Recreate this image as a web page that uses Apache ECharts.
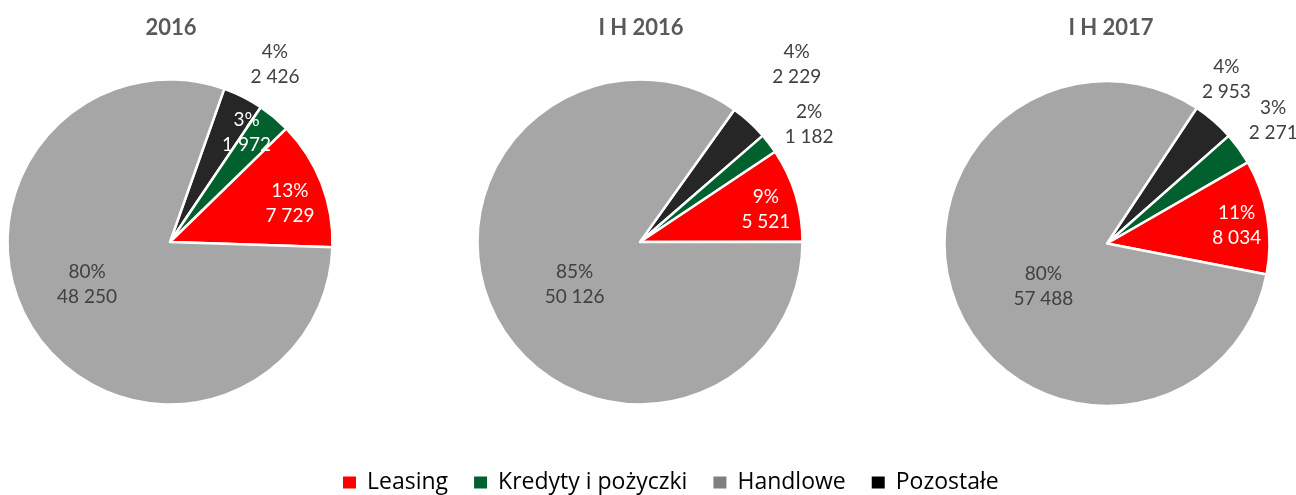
<!DOCTYPE html>
<html>
<head>
<meta charset="utf-8">
<script src="https://cdn.jsdelivr.net/npm/echarts@6/dist/echarts.min.js"></script>
<style>
  html, body { margin: 0; padding: 0; background: #fff; }
  #chart { width: 1296px; height: 495px; }
</style>
</head>
<body>
<div id="chart"></div>
<script>
// okresy (tytuły wykresów)
const periods = ['2016', 'I H 2016', 'I H 2017']
const categories = ['Leasing', 'Kredyty i pożyczki', 'Handlowe', 'Pozostałe']

// wartości
const leasing = [7729, 5521, 8034]
const kredyty = [1972, 1182, 2271]
const handlowe = [48250, 50126, 57488]
const pozostale = [2426, 2229, 2953]

const leasingPct = [13, 9, 11]
const kredytyPct = [3, 2, 3]
const handlowePct = [80, 85, 80]
const pozostalePct = [4, 4, 4]

const colors = {
  'Leasing': '#ff0000',
  'Kredyty i pożyczki': '#00612e',
  'Handlowe': '#a6a6a6',
  'Pozostałe': '#262626'
}
const legendColors = {
  'Leasing': '#ff0000',
  'Kredyty i pożyczki': '#00612e',
  'Handlowe': '#7f7f7f',
  'Pozostałe': '#000000'
}

const centersX = [170, 640, 1107]
const centersY = [242, 242, 243.5]
const titleX = [166, 636, 1106]
const R = 162.5
const startAngles = [70.5, 54.5, 56.5]
// etykiety: [odległość od środka koła, przesunięcie kąta w stopniach]
const labelPos = [
  { 'Leasing': [123, -3.4], 'Kredyty i pożyczki': [131, 5], 'Handlowe': [90, -7.5], 'Pozostałe': [203, -3.9] },
  { 'Leasing': [127, -2.4], 'Kredyty i pożyczki': [203, -2.5], 'Handlowe': [75, 5.8], 'Pozostałe': [234, 0.9] },
  { 'Leasing': [128, -1.4], 'Kredyty i pożyczki': [204, 0.9], 'Handlowe': [74, 11.5], 'Pozostałe': [200, 5] }
]

const FONT = 'Lato, "Open Sans", sans-serif'

function fmt (v) {
  return String(v).replace(/\B(?=(\d{3})+(?!\d))/g, ' ')
}

function sliceData (i) {
  // kolejność zgodnie z ruchem wskazówek zegara
  return [
    { name: 'Pozostałe', value: pozostale[i], pct: pozostalePct[i] },
    { name: 'Kredyty i pożyczki', value: kredyty[i], pct: kredytyPct[i] },
    { name: 'Leasing', value: leasing[i], pct: leasingPct[i] },
    { name: 'Handlowe', value: handlowe[i], pct: handlowePct[i] }
  ]
}

function labelColor (name, dist) {
  if (dist > R) return '#404040'
  return (name === 'Handlowe') ? '#404040' : '#ffffff'
}

const series = []
periods.forEach((p, i) => {
  const rows = sliceData(i)
  const base = {
    type: 'pie',
    center: [centersX[i], centersY[i]],
    clockwise: true,
    avoidLabelOverlap: false,
    labelLayout: { hideOverlap: false },
    animation: false,
    labelLine: { show: false }
  }
  // właściwe wycinki
  series.push(Object.assign({}, base, {
    name: p,
    radius: [0, R],
    startAngle: startAngles[i],
    emphasis: { scale: false },
    label: { show: false },
    data: rows.map(d => ({
      name: d.name,
      value: d.value,
      itemStyle: { color: colors[d.name], borderColor: '#fff', borderWidth: 2.5 }
    }))
  }))
  // niewidoczne koła tylko do ustawienia etykiet (etykieta 'inside' leży w połowie promienia)
  rows.forEach(row => {
    const pos = labelPos[i][row.name]
    series.push(Object.assign({}, base, {
      name: p + ' ' + row.name,
      radius: [0, pos[0] * 2],
      startAngle: startAngles[i] + pos[1],
      silent: true,
      z: 3,
      data: rows.map(d => ({
        name: d.name,
        value: d.value,
        itemStyle: { color: 'rgba(0,0,0,0)', borderWidth: 0 },
        label: {
          show: d.name === row.name,
          position: 'inside',
          formatter: d.pct + '%\n' + fmt(d.value),
          color: labelColor(d.name, pos[0]),
          fontFamily: FONT,
          fontSize: 19,
          lineHeight: 25
        }
      }))
    }))
  })
})

const chart = echarts.init(document.getElementById('chart'))
chart.setOption({
  backgroundColor: '#ffffff',
  title: periods.map((p, i) => ({
    text: p,
    left: titleX[i],
    top: 12,
    textAlign: 'center',
    textStyle: { fontFamily: FONT, fontSize: 22, fontWeight: 'bold', color: '#595959' }
  })),
  legend: {
    bottom: -4,
    left: 336,
    itemWidth: 15,
    itemHeight: 14,
    itemGap: 24,
    icon: 'rect',
    selectedMode: false,
    textStyle: { fontFamily: '"Open Sans"', fontSize: 23, color: '#000', padding: [0, 0, 0, 5] },
    data: categories.map(c => ({ name: c, itemStyle: { color: legendColors[c] } }))
  },
  series: series
})
</script>
</body>
</html>
